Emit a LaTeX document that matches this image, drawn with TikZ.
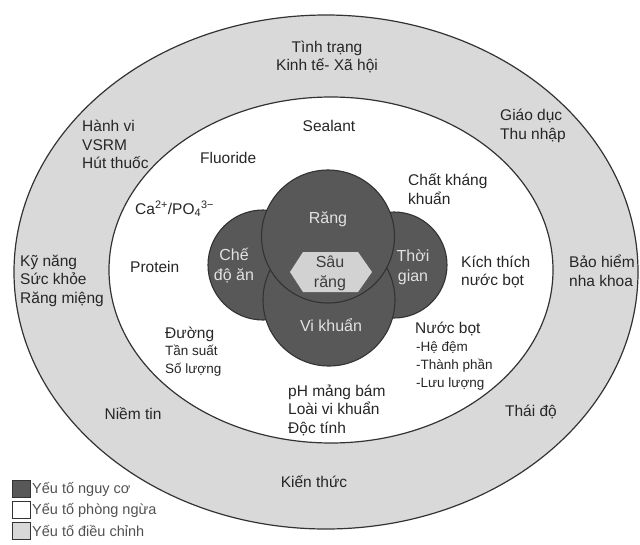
\documentclass[tikz,border=0pt]{standalone}
\usepackage{fontspec}
\setmainfont{Liberation Sans}
\definecolor{ringgray}{HTML}{D9D9D9}
\definecolor{riskgray}{HTML}{585858}
\definecolor{edgegray}{HTML}{333333}
\definecolor{hexgray}{HTML}{D2D2D2}
\definecolor{inktext}{HTML}{262626}
\definecolor{paletext}{HTML}{E2E2E2}

\begin{document}
\begin{tikzpicture}[x=1pt,y=-1pt,
  ring/.style={fill=ringgray, draw=edgegray, line width=1.2pt},
  core/.style={fill=white, draw=edgegray, line width=1.2pt},
  risk/.style={circle, fill=riskgray, draw=edgegray, line width=1.1pt, inner sep=0pt, outer sep=0pt},
  lbl/.style={font=\fontsize{15.5}{18.5}\selectfont, text=inktext, inner sep=0pt, align=left},
  clbl/.style={lbl, align=center},
  smalllbl/.style={font=\fontsize{13.5}{18}\selectfont, text=inktext, inner sep=0pt, align=left},
  risklbl/.style={font=\fontsize{16}{20}\selectfont, text=paletext, inner sep=0pt, align=center},
  keybox/.style={draw=edgegray, line width=0.8pt, minimum width=18pt, minimum height=17pt, inner sep=0pt},
  keylbl/.style={font=\fontsize{14.5}{16}\selectfont, text=inktext!80, inner sep=0pt, anchor=west}
]
\useasboundingbox (0,0) rectangle (640,544);

% modifying factors (outer ring) and protective factors (inner field)
\draw[ring] (326,272) ellipse [x radius=312, y radius=257];
\draw[core] (331,270) ellipse [x radius=222, y radius=173];

% the four risk factors
\node[risk, minimum size=110pt] (diet) at (263,265) {};
\node[risk, minimum size=106pt] (time) at (394,265) {};
\node[risk, minimum size=132pt] (bact) at (329,300) {};
\node[risk, minimum size=133pt] (tooth) at (328,236.5) {};

% caries at the overlap
\fill[hexgray] (290,272) -- (303,252) -- (358,252) -- (372,272) -- (358,292) -- (303,292) -- cycle;
\node[font=\fontsize{16}{20}\selectfont, text=inktext!90, align=center, inner sep=0pt] (caries) at (330,273) {Sâu\\răng};

% labels inside the risk circles
\node[risklbl] (toothlbl) at (328,219) {Răng};
\node[risklbl] (dietlbl) at (234,266) {Chế\\độ ăn};
\node[risklbl] (timelbl) at (413,267) {Thời\\gian};
\node[risklbl] (bactlbl) at (331,325) {Vi khuẩn};

% protective factors
\node[clbl] (sealant) at (329,126) {Sealant};
\node[lbl, anchor=west] (fluoride) at (200,158) {Fluoride};
\node[lbl, anchor=west] (antibac) at (408,189) {Chất kháng\\khuẩn};
\node[lbl, anchor=west] (capo) at (135,209) {Ca\textsuperscript{2+}/PO\textsubscript{4}\textsuperscript{3−}};
\node[lbl, anchor=west] (protein) at (130,267) {Protein};
\node[lbl, anchor=west] (saliva) at (461,272) {Kích thích\\nước bọt};
\node[lbl, anchor=west] (sugar) at (165,334) {Đường};
\node[smalllbl, anchor=west] (sugarmore) at (165,361) {Tần suất\\Số lượng};
\node[lbl, anchor=west] (spit) at (415,329) {Nước bọt};
\node[smalllbl, anchor=west] (spitmore) at (416,366) {-Hệ đệm\\-Thành phần\\-Lưu lượng};
\node[lbl, anchor=west] (plaque) at (288,410) {pH mảng bám\\Loài vi khuẩn\\Độc tính};

% modifying factors
\node[clbl] (ses) at (327,57) {Tình trạng\\Kinh tế- Xã hội};
\node[lbl, anchor=west] (edu) at (500,126) {Giáo dục\\Thu nhập};
\node[lbl, anchor=west] (habit) at (82,144.5) {Hành vi\\VSRM\\Hút thuốc};
\node[lbl, anchor=west] (skill) at (20,280.5) {Kỹ năng\\Sức khỏe\\Răng miệng};
\node[lbl, anchor=west] (insur) at (569,271) {Bảo hiểm\\nha khoa};
\node[clbl] (belief) at (133,414) {Niềm tin};
\node[clbl] (attit) at (531,412) {Thái độ};
\node[clbl] (know) at (314,482) {Kiến thức};

% legend
\node[keybox, fill=riskgray] (k1) at (21,489) {};
\node[keybox, fill=white] (k2) at (21,510) {};
\node[keybox, fill=ringgray] (k3) at (21,531) {};
\node[keylbl] (k1t) at (32,489) {Yếu tố nguy cơ};
\node[keylbl] (k2t) at (32,510) {Yếu tố phòng ngừa};
\node[keylbl] (k3t) at (32,531) {Yếu tố điều chỉnh};
\end{tikzpicture}
\end{document}
